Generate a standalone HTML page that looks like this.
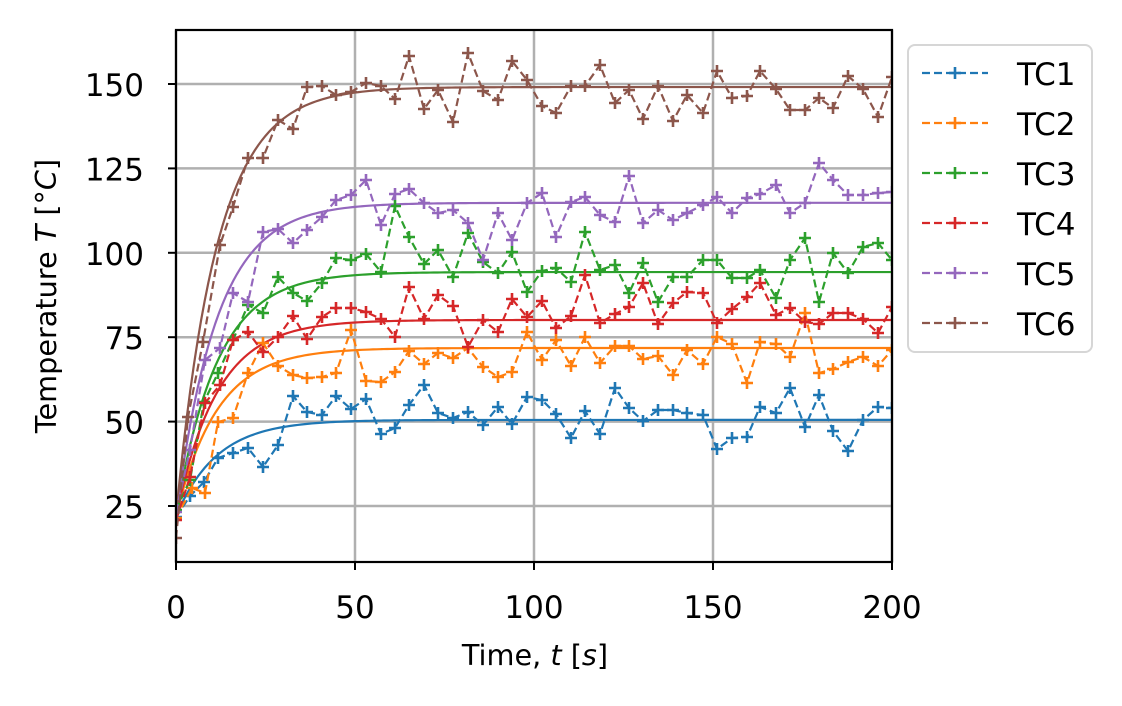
<!DOCTYPE html>
<html><head><meta charset="utf-8">
<style>html,body{margin:0;padding:0;background:#fff}svg{display:block}</style>
</head><body>
<svg id="s" width="1122" height="706" xmlns="http://www.w3.org/2000/svg" font-family="DejaVu Sans, Liberation Sans, sans-serif">
<rect width="1122" height="706" fill="#fff"/>
<g id="grid" stroke="#b0b0b0" stroke-width="2.5"></g>
<g id="data"></g>
<rect x="176" y="30" width="716" height="532" fill="none" stroke="#000" stroke-width="2.2"/>
<g id="ticks" stroke="#000" stroke-width="2"></g>
<g id="labels" font-size="31" fill="#000"></g>
<text x="535" y="665" font-size="28.7" text-anchor="middle">Time, <tspan font-style="italic">t</tspan> [<tspan font-style="italic">s</tspan>]</text>
<text transform="translate(56,296) rotate(-90)" font-size="28.7" text-anchor="middle">Temperature <tspan font-style="italic">T</tspan>  [°<tspan font-style="italic">C</tspan>]</text>
<rect x="908" y="45" width="184" height="307" rx="7" fill="#fff" stroke="#d6d6d6" stroke-width="2"/>
<g id="legend" font-size="31"></g>
</svg>
<script>
const NS="http://www.w3.org/2000/svg";
function el(p,t,a,txt){const e=document.createElementNS(NS,t);for(const k in a)e.setAttribute(k,a[k]);if(txt!==undefined)e.textContent=txt;p.appendChild(e);return e;}
const X=t=>176+t*3.58, Y=v=>590.4-v*3.376;
const g=document.getElementById('grid'),tk=document.getElementById('ticks'),lb=document.getElementById('labels');
[0,50,100,150,200].forEach(t=>{const x=X(t);el(g,'line',{x1:x,x2:x,y1:30,y2:562});el(tk,'line',{x1:x,x2:x,y1:562,y2:570});el(lb,'text',{x:x,y:618,'text-anchor':'middle'},t);});
[25,50,75,100,125,150].forEach(v=>{const y=Y(v);el(g,'line',{x1:176,x2:892,y1:y,y2:y});el(tk,'line',{x1:168,x2:176,y1:y,y2:y});el(lb,'text',{x:144,y:y+12,'text-anchor':'end'},v);});
const cols=['#1f77b4','#ff7f0e','#2ca02c','#d62728','#9467bd','#8c564b'];
const tss=[50.5,71.8,94.3,80.1,114.8,149.1];
const D=[
"176,517 190,496 204,482 218,458 233,453 248,448 263,467 278,445 293,396 307,412 322,415 336,396 351,409 366,399 381,434 395,428 409,405 424,385 438,413 453,418 468,412 483,425 498,407 512,424 527,397 542,400 556,414 571,438 585,411 600,434 615,388 629,408 643,421 658,410 673,410 687,413 703,415 717,449 732,438 747,437 760,407 776,413 790,388 805,427 819,395 833,431 848,451 863,420 878,407 892,408",
"176,518 192,488 205,493 218,422 233,418 248,373 263,343 278,366 293,375 307,378 322,377 336,373 351,330 366,381 381,382 395,372 409,351 424,364 438,353 453,358 468,348 483,367 498,377 512,372 527,332 542,360 556,340 571,366 585,337 600,363 615,346 629,346 643,359 658,356 673,375 687,350 703,364 717,337 732,344 747,383 760,342 776,344 790,357 805,313 819,373 833,369 848,362 863,357 878,366 892,350",
"176,510 190,480 204,402 218,373 233,340 248,305 263,313 278,277 293,293 307,301 322,283 336,258 351,260 366,254 381,272 395,206 409,237 424,264 438,250 453,277 468,233 483,262 498,273 512,252 527,292 542,271 556,268 571,282 585,232 600,270 615,265 629,293 643,263 658,302 673,277 687,277 703,260 717,260 732,278 747,278 760,270 776,298 790,260 805,238 819,302 833,253 848,273 863,247 878,243 892,260",
"176,520 190,477 205,403 220,385 233,340 248,332 263,352 278,337 293,316 307,339 322,317 336,308 351,308 366,312 381,319 395,337 409,287 424,319 438,295 453,306 468,347 483,320 498,332 512,299 527,317 542,301 556,328 571,316 585,275 600,323 615,314 629,307 643,283 658,324 673,303 687,292 703,293 717,323 732,309 747,297 760,283 776,315 790,308 805,322 819,324 833,313 848,313 863,319 878,333 892,307",
"176,512 190,450 205,360 220,348 233,293 248,302 263,232 278,229 293,243 307,230 322,217 336,200 351,195 366,180 381,225 395,194 409,189 424,203 438,213 453,210 468,223 483,260 498,213 512,240 527,203 542,193 556,237 571,202 585,197 600,215 615,222 629,176 643,223 658,210 673,220 687,213 703,205 717,197 732,213 747,198 760,194 776,185 790,213 805,203 819,163 833,180 848,195 863,195 878,193 892,192",
"176,538 188,417 203,342 220,245 233,207 248,158 263,158 278,120 293,129 307,87 322,86 336,95 351,92 366,83 381,86 395,99 409,56 424,109 438,90 453,122 468,53 483,91 498,100 512,61 527,80 542,106 556,113 571,86 585,86 600,65 615,103 629,90 643,119 658,86 673,121 687,95 703,113 717,71 732,98 747,96 760,71 776,89 790,110 805,110 819,98 833,108 848,76 863,89 878,117 892,77"];
const dg=document.getElementById('data');
const cl=el(dg,'g',{});
cl.setAttribute('clip-path','url(#c)');
const defs=el(document.getElementById('s'),'defs',{});const cp=el(defs,'clipPath',{id:'c'});el(cp,'rect',{x:176,y:30,width:716,height:532});
function plus(p,x,y,c){el(p,'path',{d:`M${x-6},${y}H${x+6}M${x},${y-6}V${y+6}`,stroke:c,'stroke-width':2.6,fill:'none'});}
for(let i=0;i<6;i++){
  let pts='';for(let t=0;t<=200;t+=1){const v=tss[i]-(tss[i]-22)*Math.exp(-t/11.5);pts+=X(t)+','+Y(v)+' ';}
  el(cl,'polyline',{points:pts,fill:'none',stroke:cols[i],'stroke-width':2.2});
}
for(let i=0;i<6;i++){
  el(cl,'polyline',{points:D[i],fill:'none',stroke:cols[i],'stroke-width':2.2,'stroke-dasharray':'8,4'});
  D[i].split(' ').forEach(p=>{const [x,y]=p.split(',').map(Number);plus(cl,x,y,cols[i]);});
}
const lg=document.getElementById('legend');
for(let i=0;i<6;i++){const y=73+50*i;
  el(lg,'line',{x1:922,x2:988,y1:y,y2:y,stroke:cols[i],'stroke-width':2.2,'stroke-dasharray':'8,4'});
  plus(lg,955,y,cols[i]);
  el(lg,'text',{x:1017,y:y+12,fill:'#000'},'TC'+(i+1));
}
</script>
</body></html>
